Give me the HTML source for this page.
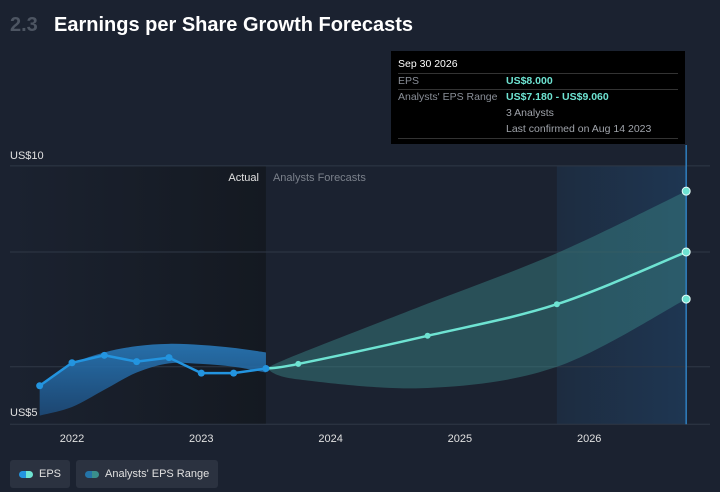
<!DOCTYPE html>
<html><head><meta charset="utf-8"><style>
body{margin:0;background:#1b2230;font-family:"Liberation Sans",sans-serif;}
#wrap{position:relative;width:720px;height:492px;overflow:hidden;background:#1b2230}
</style></head><body>
<div id="wrap">
<svg id="svg" width="720" height="492">
<defs>
<linearGradient id="actG" x1="0" x2="1" y1="0" y2="0"><stop offset="0" stop-color="#1b2230"/><stop offset="1" stop-color="#141921"/></linearGradient>
<linearGradient id="hiG" x1="0" x2="1"><stop offset="0" stop-color="#1d2c40"/><stop offset="1" stop-color="#1e3652"/></linearGradient>
<linearGradient id="bandA" x1="0" y1="0" x2="0" y2="1"><stop offset="0" stop-color="#2878b8"/><stop offset="1" stop-color="#1d4a78"/></linearGradient>
</defs>
<text x="10" y="31" font-size="20" fill="#4d5562" font-weight="bold">2.3</text>
<text x="54" y="31" font-size="20" fill="#ffffff" font-weight="bold">Earnings per Share Growth Forecasts</text>
<g id="g"></g>
</svg>
<div style="position:absolute;left:10px;top:460px;display:flex;gap:6px;font-size:11px;color:#e0e0e0">
<div style="background:#2b3240;border-radius:3px;padding:8px 9px;display:flex;align-items:center;gap:6px"><span style="display:inline-block;width:14px;height:7px;border-radius:4px;background:linear-gradient(90deg,#2394df 50%,#6ee3d2 50%)"></span>EPS</div>
<div style="background:#2b3240;border-radius:3px;padding:8px 9px;display:flex;align-items:center;gap:6px"><span style="display:inline-block;width:14px;height:7px;border-radius:4px;background:linear-gradient(90deg,#2474a8 50%,#3a8f8c 50%)"></span>Analysts' EPS Range</div>
</div>
<div style="position:absolute;left:391px;top:51px;width:294px;height:93px;background:#000;font-size:10.5px;color:#fff">
<div style="position:absolute;left:7px;top:7px">Sep 30 2026</div>
<div style="position:absolute;left:7px;right:7px;top:22px;border-top:1px solid #333"></div>
<div style="position:absolute;left:7px;top:24px;color:#8a8f98">EPS</div>
<div style="position:absolute;left:115px;top:24px;color:#6ee3d2;font-weight:bold">US$8.000</div>
<div style="position:absolute;left:7px;right:7px;top:38px;border-top:1px solid #333"></div>
<div style="position:absolute;left:7px;top:40px;color:#8a8f98">Analysts' EPS Range</div>
<div style="position:absolute;left:115px;top:40px;color:#6ee3d2;font-weight:bold">US$7.180 - US$9.060</div>
<div style="position:absolute;left:115px;top:56px;color:#a0a4ab">3 Analysts</div>
<div style="position:absolute;left:115px;top:72px;color:#a0a4ab">Last confirmed on Aug 14 2023</div>
<div style="position:absolute;left:7px;right:7px;top:87px;border-top:1px solid #333"></div>
</div>
</div>
<script>
const actualDates=[2021.75,2022,2022.25,2022.5,2022.75,2023,2023.25,2023.5];
const actualEps=[5.67,6.07,6.2,6.09,6.16,5.89,5.89,5.97];
const actualHigh=[5.67,6.05,6.25,6.36,6.4,6.38,6.33,6.25];
const actualLow=[5.15,5.3,5.6,5.9,6.06,6.05,6.0,5.9];
const fcDates=[2023.5,2023.75,2024.75,2025.75,2026.75];
const fcEps=[5.97,6.05,6.54,7.09,8.0];
const fcHigh=[5.97,6.22,7.1,7.98,9.06];
const fcLow=[5.97,5.78,5.63,6.0,7.18];
const yearTicks=[2022,2023,2024,2025,2026];
const gridVals=[5,6,8,9.5];
const x=d=>72+(d-2022)*129.3;
const y=v=>252-(v-8)*57.4;
const g=document.getElementById('g');
const NS='http://www.w3.org/2000/svg';
function mk(t,a){const e=document.createElementNS(NS,t);for(const k in a)e.setAttribute(k,a[k]);g.appendChild(e);return e;}
function cr(pts){let d='';for(let i=0;i<pts.length-1;i++){const p0=pts[Math.max(0,i-1)],p1=pts[i],p2=pts[i+1],p3=pts[Math.min(pts.length-1,i+2)];
const c1=[p1[0]+(p2[0]-p0[0])/6,p1[1]+(p2[1]-p0[1])/6],c2=[p2[0]-(p3[0]-p1[0])/6,p2[1]-(p3[1]-p1[1])/6];
d+=' C'+c1+' '+c2+' '+p2;}return d;}
function line(px,py){const p=px.map((v,i)=>[v,py[i]]);return 'M'+p[0]+cr(p);}
function band(px,hi,lo){const a=px.map((v,i)=>[v,hi[i]]),b=px.map((v,i)=>[v,lo[i]]).reverse();return 'M'+a[0]+cr(a)+' L'+b[0]+cr(b)+'Z';}
const xEnd=x(2026.75), xNow=x(2023.5);
let e;
e=mk('rect',{x:10,y:y(9.5),width:xNow-10,height:y(5)-y(9.5),fill:'url(#actG)'});

e=mk('rect',{x:x(2025.75),y:y(9.5),width:xEnd-x(2025.75),height:y(5)-y(9.5),fill:'url(#hiG)'});

gridVals.forEach(v=>{e=mk('line',{x1:10,x2:710,y1:y(v),y2:y(v),stroke:'#2f3846','stroke-width':1});
});
e=mk('text',{x:10,y:y(9.5)-7,'font-size':11,fill:'#e0e0e0'});e.textContent='US$10';

e=mk('text',{x:10,y:y(5)-8,'font-size':11,fill:'#e0e0e0'});e.textContent='US$5';

e=mk('text',{x:xNow-7,y:y(9.5)+15,'font-size':11,fill:'#e0e0e0','text-anchor':'end'});e.textContent='Actual';

e=mk('text',{x:xNow+7,y:y(9.5)+15,'font-size':11,fill:'#7b818b'});e.textContent='Analysts Forecasts';

yearTicks.forEach(t=>{e=mk('text',{x:x(t),y:442,'font-size':11,fill:'#e0e0e0','text-anchor':'middle'});e.textContent=t;
});
const ax=actualDates.map(x),fx=fcDates.map(x);
e=mk('path',{d:band(ax,actualHigh.map(y),actualLow.map(y)),fill:'url(#bandA)',opacity:0.9});

e=mk('path',{d:band(fx,fcHigh.map(y),fcLow.map(y)),fill:'#3c8a8a',opacity:0.45});

e=mk('line',{x1:xEnd,x2:xEnd,y1:145,y2:y(5),stroke:'#2f7fc0','stroke-width':1.5});

e=mk('path',{d:'M'+ax.map((v,i)=>v+','+y(actualEps[i])).join(' L'),fill:'none',stroke:'#2394df','stroke-width':2.5});

e=mk('path',{d:line(fx,fcEps.map(y)),fill:'none',stroke:'#6ee3d2','stroke-width':2.5});

actualDates.forEach((d,i)=>{e=mk('circle',{cx:x(d),cy:y(actualEps[i]),r:3.5,fill:'#2394df'});
});
fcDates.forEach((d,i)=>{if(i==0)return;e=mk('circle',{cx:x(d),cy:y(fcEps[i]),r:i==fcDates.length-1?4:3,fill:'#6ee3d2',stroke:i==fcDates.length-1?'#e8fffb':'none','stroke-width':1});
});
[fcHigh,fcLow].forEach(arr=>{e=mk('circle',{cx:xEnd,cy:y(arr[arr.length-1]),r:4,fill:'#6ee3d2',stroke:'#e8fffb','stroke-width':1});
});
</script>
</body></html>
